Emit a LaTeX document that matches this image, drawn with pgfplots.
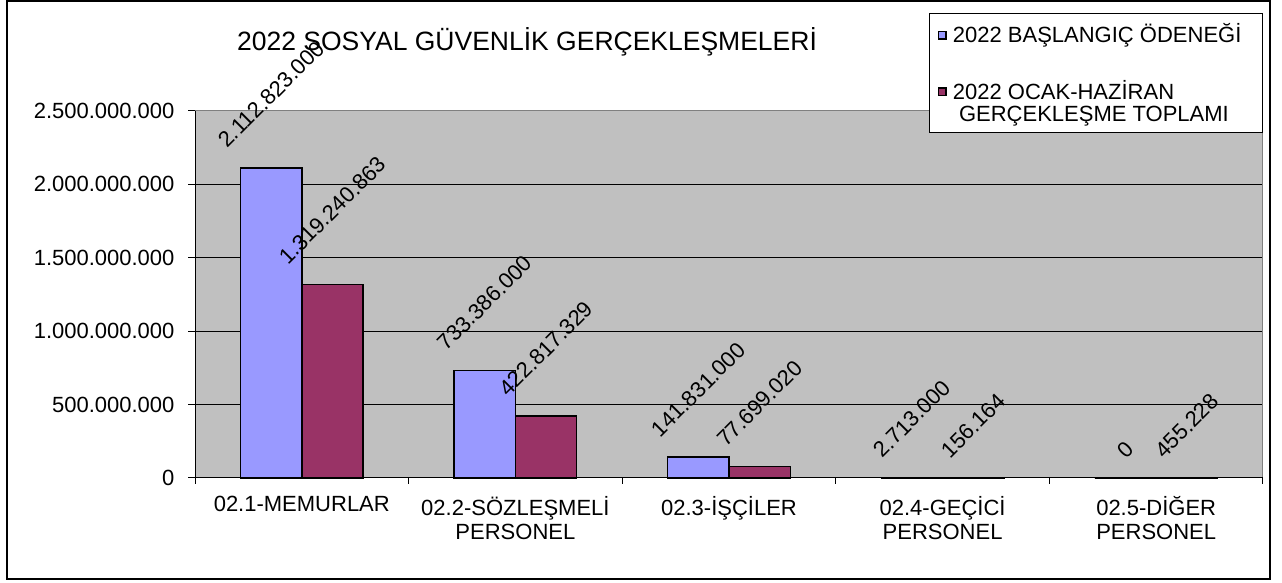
\documentclass[border=0pt]{standalone}
\usepackage{fontspec}
\setmainfont{Liberation Sans}
\usepackage{pgfplots}
\pgfplotsset{compat=1.18}
\usepackage{pgfplotstable}
\definecolor{barblue}{HTML}{9999FF}
\definecolor{barred}{HTML}{993366}
\definecolor{plotgray}{HTML}{C0C0C0}
\definecolor{edgegray}{HTML}{808080}

\pgfplotstableread{
x y lbl
0 2112823000 2.112.823.000
1 733386000 733.386.000
2 141831000 141.831.000
3 2713000 2.713.000
4 0 0
}\baslangic
\pgfplotstableread{
x y lbl
0 1319240863 1.319.240.863
1 422817329 422.817.329
2 77699020 77.699.020
3 156164 156.164
4 455228 455.228
}\gerceklesme

\newcommand{\chartfont}{\fontsize{22}{24}\selectfont}

\begin{document}
\begin{tikzpicture}[font=\chartfont]
\path[use as bounding box, fill=white] (0pt,0pt) rectangle (1282pt,583pt);
\draw[line width=1.5pt] (7pt,582pt) rectangle (1270pt,4pt);
\node[anchor=base, font=\fontsize{26.5}{28}\selectfont] at (527pt,532pt) {2022 SOSYAL GÜVENLİK GERÇEKLEŞMELERİ};
\begin{axis}[
    at={(195pt,105pt)}, anchor=south west,
    scale only axis, width=1068pt, height=367pt,
    ybar=0pt, bar width=0.287,
    xmin=-0.5, xmax=4.5, ymin=0, ymax=2500000000,
    scaled y ticks=false,
    axis background/.style={fill=plotgray},
    axis line style={draw=edgegray, line width=1pt},
    xtick={0,1,2,3,4},
    xticklabels={02.1-MEMURLAR, {02.2-SÖZLEŞMELİ\\PERSONEL}, 02.3-İŞÇİLER, {02.4-GEÇİCİ\\PERSONEL}, {02.5-DİĞER\\PERSONEL}},
    xticklabel style={align=center, font=\chartfont, yshift=-8pt},
    major x tick style={draw=none},
    minor xtick={-0.5,0.5,1.5,2.5,3.5,4.5},
    minor tick length=6pt,
    minor x tick style={black, line width=1pt},
    ytick={0,500000000,1000000000,1500000000,2000000000,2500000000},
    yticklabels={0,500.000.000,1.000.000.000,1.500.000.000,2.000.000.000,2.500.000.000},
    yticklabel style={font=\chartfont, xshift=-10pt},
    ytick style={black, line width=1pt},
    major tick length=7pt,
    tick align=outside, xtick pos=bottom, ytick pos=left,
    ymajorgrids, grid style={black, line width=1pt},
    nodes near coords={\rotatebox{45}{\pgfplotspointmeta}},
    point meta=explicit symbolic,
    every node near coord/.append style={anchor=south, inner sep=0pt, yshift=18pt, font=\chartfont},
    legend style={at={(rel axis cs:1,1.267)}, anchor=north east, draw=black, line width=1pt,
        fill=white, inner xsep=8pt, inner ysep=10pt, row sep=36pt, column sep=6pt,
        font=\chartfont, nodes={inner sep=0pt}, cells={anchor=base west}},
    clip=false,
]
\addplot[fill=barblue, draw=black, line width=1.5pt,
    legend image code/.code={\draw[fill=barblue, draw=black, line width=1.5pt] (0.75pt,3.75pt) rectangle (8.25pt,11.25pt);}]
    table[x=x, y=y, meta=lbl] {\baslangic};
\addplot[fill=barred, draw=black, line width=1.5pt,
    legend image code/.code={\draw[fill=barred, draw=black, line width=1.5pt] (0.75pt,25.75pt) rectangle (8.25pt,33.25pt);}]
    table[x=x, y=y, meta=lbl] {\gerceklesme};
\draw[black, line width=1pt] (rel axis cs:0,1) -- (rel axis cs:0,0) -- (rel axis cs:1,0);
\legend{2022 BAŞLANGIÇ ÖDENEĞİ\hspace*{13pt}, {\vbox{\baselineskip=22pt\hbox{2022 OCAK-HAZİRAN}\hbox{\ GERÇEKLEŞME TOPLAMI}}}}
\end{axis}
\end{tikzpicture}
\end{document}
